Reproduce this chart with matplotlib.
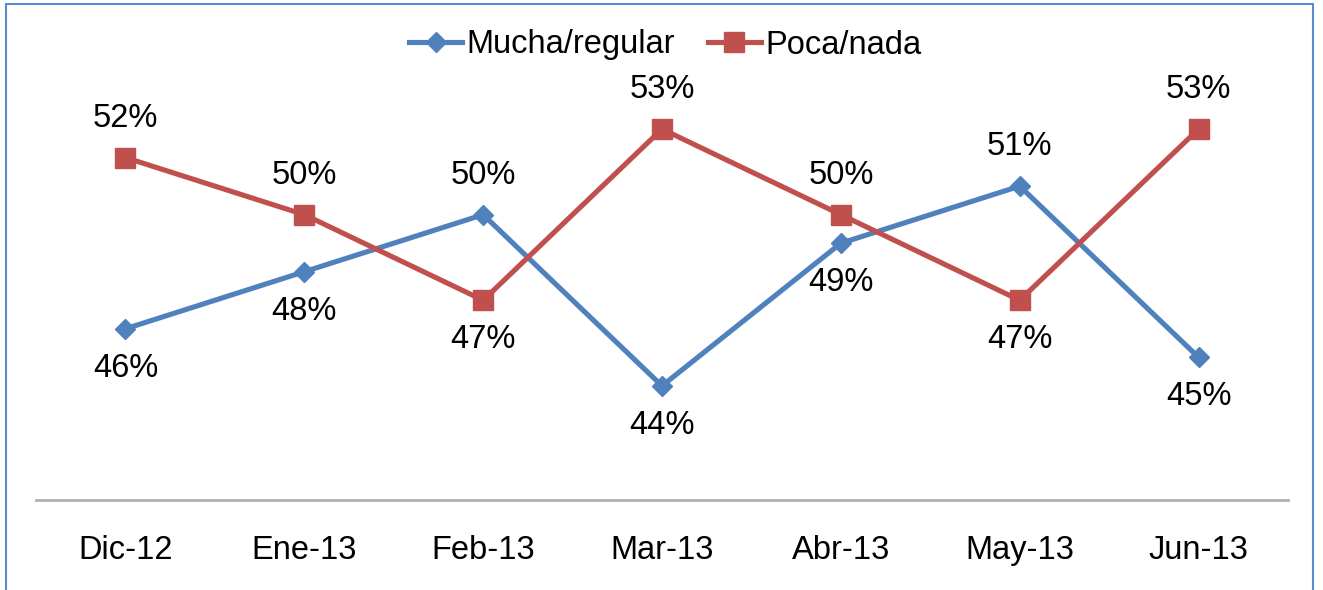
import matplotlib
matplotlib.use("Agg")
import matplotlib.pyplot as plt
from matplotlib.patches import Rectangle

# data
months = ["Dic-12", "Ene-13", "Feb-13", "Mar-13", "Abr-13", "May-13", "Jun-13"]
mucha = [46, 48, 50, 44, 49, 51, 45]
poca = [52, 50, 47, 53, 50, 47, 53]

blue = "#4F81BD"
red = "#C0504D"
fs = 23.5

plt.rcParams["font.family"] = ["Liberation Sans", "DejaVu Sans"]

fig = plt.figure(figsize=(13.23, 5.9), dpi=100)
ax = fig.add_axes([36 / 1323, 1 - 500 / 590, (1288 - 36) / 1323, (500 - 72) / 590])

x = list(range(len(months)))
ax.plot(x, mucha, color=blue, lw=3.7, marker="D", ms=10.5, label="Mucha/regular")
ax.plot(x, poca, color=red, lw=3.7, marker="s", ms=14, label="Poca/nada")

# data labels: the higher series gets its label above, the lower one below
for i in x:
    for vals, other in ((mucha, poca), (poca, mucha)):
        off = 28.5 if vals[i] >= other[i] else -28.5
        ax.annotate("%d%%" % vals[i], (i, vals[i]), xytext=(0, off),
                    textcoords="offset points", ha="center", va="center",
                    fontsize=fs, color="black")

ax.set_xlim(-0.5, len(months) - 0.5)
ax.set_ylim(40, 55)
ax.set_xticks(x)
ax.set_xticklabels(months, fontsize=fs)
ax.tick_params(axis="x", length=0, pad=25)
ax.set_yticks([])
for s in ["top", "right", "left"]:
    ax.spines[s].set_visible(False)
ax.spines["bottom"].set_color("#B0B0B0")
ax.spines["bottom"].set_linewidth(2)

fig.legend(loc="center", bbox_to_anchor=(665 / 1323, 1 - 45 / 590), ncol=2,
           frameon=False, fontsize=fs, handlelength=1.65, handletextpad=0.12,
           columnspacing=1.0, borderpad=0)

# outer border of the chart area
fig.patches.append(Rectangle((6 / 1323, -0.05), (1313 - 6) / 1323, 1.05 - 4 / 590,
                             transform=fig.transFigure, fill=False,
                             edgecolor="#5A8AD0", lw=1.5))

fig.savefig("out.png", dpi=100)
